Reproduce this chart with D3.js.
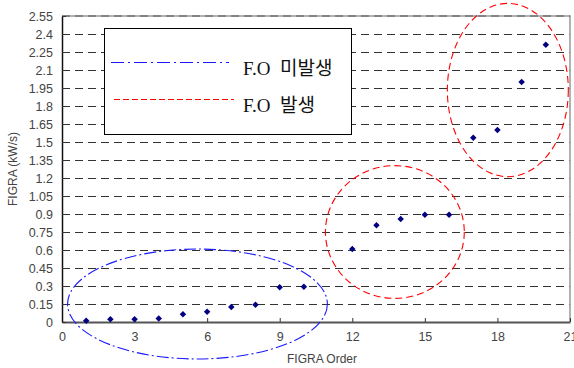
<!DOCTYPE html>
<html>
<head>
<meta charset="utf-8">
<script src="https://cdn.jsdelivr.net/npm/d3@7"></script>
<style>
  html, body { margin: 0; padding: 0; background: #fff; }
  svg { display: block; }
</style>
</head>
<body>
<svg id="chart" width="574" height="368"></svg>
<script>
// FIGRA value by test order (order 11 has no result)
const orders = [1, 2, 3, 4, 5, 6, 7, 8, 9, 10, 12, 13, 14, 15, 16, 17, 18, 19, 20];
const figra  = [0.01, 0.022, 0.022, 0.03, 0.064, 0.086, 0.125, 0.144, 0.289, 0.294,
                0.608, 0.806, 0.858, 0.894, 0.894, 1.536, 1.60, 2.00, 2.311];

const xTicks = [0, 3, 6, 9, 12, 15, 18, 21];
const yTicks = [0, 0.15, 0.3, 0.45, 0.6, 0.75, 0.9, 1.05, 1.2, 1.35, 1.5, 1.65, 1.8, 1.95, 2.1, 2.25, 2.4, 2.55];
const yTickLabels = ["0", "0.15", "0.3", "0.45", "0.6", "0.75", "0.9", "1.05", "1.2", "1.35", "1.5", "1.65", "1.8", "1.95", "2.1", "2.25", "2.4", "2.55"];

// Grouping ellipses in data units: centre, half-widths, group
const groupNames = ["F.O 미발생", "F.O 발생"];
const ellipseGroup = [0, 1, 1];
const ellipseCx = [5.6, 13.76, 18.43];
const ellipseCy = [0.15, 0.75, 1.933];
const ellipseRx = [5.37, 2.87, 2.5];
const ellipseRy = [0.458, 0.553, 0.722];

const groupColor = ["#1a1aff", "#ff0000"];
const groupDash = ["12,3,2,3", "7,4"];

const svg = d3.select("#chart");
const margin = { left: 62, right: 4, top: 16, bottom: 46 };
const W = 574, H = 368;

const x = d3.scaleLinear().domain([0, 21]).range([margin.left, W - margin.right]);
const y = d3.scaleLinear().domain([0, 2.55]).range([H - margin.bottom, margin.top]);

// dashed horizontal grid
svg.append("g")
  .selectAll("line")
  .data(yTicks.filter(v => v > 0 && v < 2.55))
  .join("line")
  .attr("x1", x(0)).attr("x2", x(21))
  .attr("y1", d => Math.round(y(d)) + 0.5).attr("y2", d => Math.round(y(d)) + 0.5)
  .attr("stroke", "#333").attr("stroke-width", 1)
  .attr("stroke-dasharray", "8,5");

// plot frame: top and right edges
svg.append("path")
  .attr("d", `M${x(0)},${y(2.55)}H${x(21)}V${y(0)}`)
  .attr("fill", "none").attr("stroke", "#999").attr("stroke-width", 1.5);
svg.append("line")
  .attr("x1", x(0)).attr("x2", x(21))
  .attr("y1", y(2.55)).attr("y2", y(2.55))
  .attr("stroke", "#555").attr("stroke-width", 1)
  .attr("stroke-dasharray", "8,5");

// axes
const xAxis = d3.axisBottom(x).tickValues(xTicks).tickSizeInner(-4).tickSizeOuter(0).tickPadding(10);
const yAxis = d3.axisLeft(y).tickValues(yTicks).tickSizeInner(-4).tickSizeOuter(0).tickPadding(9)
  .tickFormat((d, i) => yTickLabels[i]);

const gx = svg.append("g").attr("transform", `translate(0,${y(0)})`).call(xAxis);
gx.select(".domain").attr("stroke", "#555").attr("stroke-width", 2);
gx.selectAll(".tick line").attr("stroke", "#333");
gx.selectAll("text").attr("font-family", "'Liberation Sans', Arial, sans-serif")
  .attr("font-size", 12.5).attr("fill", "#444");

const gy = svg.append("g").attr("transform", `translate(${x(0)},0)`).call(yAxis);
gy.select(".domain").attr("stroke", "#111").attr("stroke-width", 1.5);
gy.selectAll(".tick line").attr("stroke", "#333");
gy.selectAll("text").attr("font-family", "'Liberation Sans', Arial, sans-serif")
  .attr("font-size", 12.5).attr("fill", "#444");

// axis titles
svg.append("text")
  .attr("x", (x(0) + x(21)) / 2 + 6).attr("y", 363)
  .attr("text-anchor", "middle")
  .attr("font-family", "'Liberation Sans', Arial, sans-serif")
  .attr("font-size", 12).attr("fill", "#444")
  .text("FIGRA Order");
svg.append("text")
  .attr("transform", `translate(17,${(y(0) + y(2.55)) / 2}) rotate(-90)`)
  .attr("text-anchor", "middle")
  .attr("font-family", "'Liberation Sans', Arial, sans-serif")
  .attr("font-size", 12).attr("fill", "#444")
  .text("FIGRA (kW/s)");

// legend box
const legend = svg.append("g");
legend.append("rect")
  .attr("x", 104.5).attr("y", 28.5).attr("width", 247).attr("height", 106)
  .attr("fill", "#fff").attr("stroke", "#000").attr("stroke-width", 1);
const legendRows = [{ y: 62, x1: 111, x2: 229 }, { y: 99, x1: 114, x2: 234 }];
legendRows.forEach((r, i) => {
  legend.append("line")
    .attr("x1", r.x1).attr("x2", r.x2).attr("y1", r.y + 0.5).attr("y2", r.y + 0.5)
    .attr("stroke", groupColor[i]).attr("stroke-width", 1)
    .attr("stroke-dasharray", i === 0 ? "13,4,2,4" : "6,3");
  legend.append("text")
    .attr("x", 243).attr("y", r.y + 13)
    .attr("font-family", "'Liberation Serif', 'Noto Sans CJK KR', serif")
    .attr("font-size", 19).attr("fill", "#111")
    .attr("xml:space", "preserve")
    .text(groupNames[i].replace(" ", "  "));
});

// data markers
svg.append("g")
  .selectAll("path")
  .data(orders)
  .join("path")
  .attr("d", d3.symbol().type(d3.symbolSquare).size(21))
  .attr("transform", (d, i) => `translate(${x(d)},${y(figra[i])}) rotate(45)`)
  .attr("fill", "#000080");

// group ellipses
svg.append("g")
  .selectAll("ellipse")
  .data(ellipseCx)
  .join("ellipse")
  .attr("cx", (d) => x(d))
  .attr("cy", (d, i) => y(ellipseCy[i]))
  .attr("rx", (d, i) => x(ellipseRx[i]) - x(0))
  .attr("ry", (d, i) => y(0) - y(ellipseRy[i]))
  .attr("fill", "none")
  .attr("stroke", (d, i) => groupColor[ellipseGroup[i]])
  .attr("stroke-width", 1.1)
  .attr("stroke-dasharray", (d, i) => groupDash[ellipseGroup[i]]);
</script>
</body>
</html>
